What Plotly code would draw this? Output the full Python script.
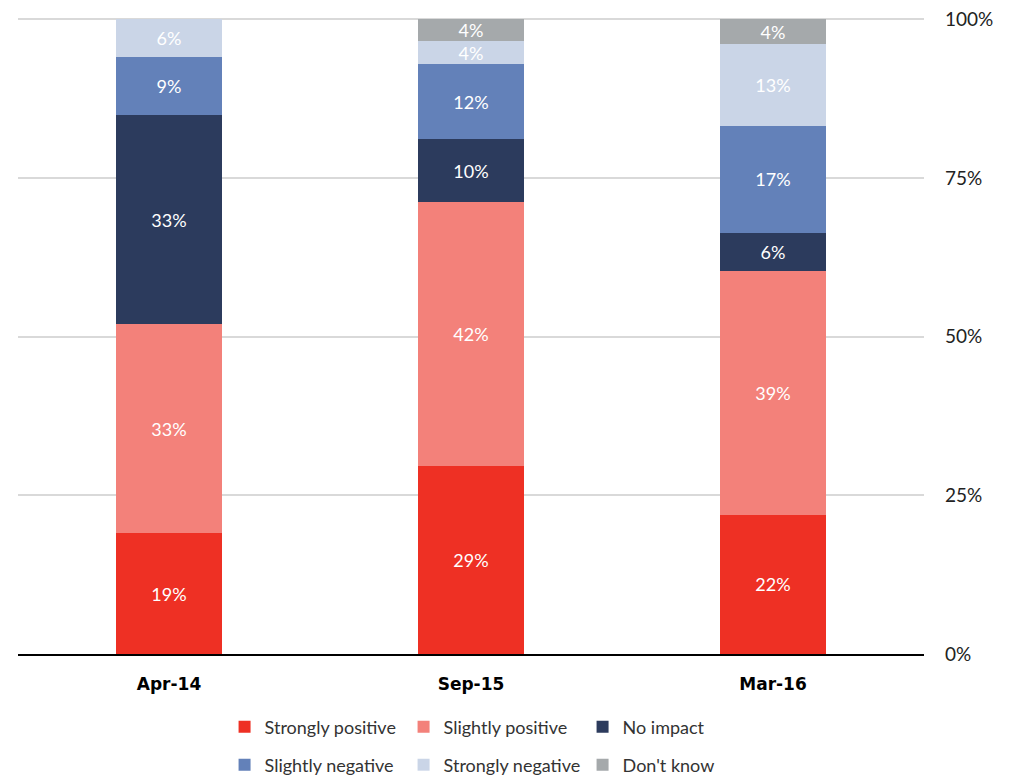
import plotly.graph_objects as go

categories = ["Apr-14", "Sep-15", "Mar-16"]
series_names = ["Strongly positive", "Slightly positive", "No impact",
                "Slightly negative", "Strongly negative", "Don't know"]
strongly_positive = [19.0, 29.6, 21.9]
slightly_positive = [33.0, 41.6, 38.5]
no_impact = [32.9, 9.9, 6.0]
slightly_negative = [9.1, 11.8, 16.8]
strongly_negative = [6.0, 3.6, 12.9]
dont_know = [0.0, 3.5, 3.9]

labels_strongly_positive = ["19%", "29%", "22%"]
labels_slightly_positive = ["33%", "42%", "39%"]
labels_no_impact = ["33%", "10%", "6%"]
labels_slightly_negative = ["9%", "12%", "17%"]
labels_strongly_negative = ["6%", "4%", "13%"]
labels_dont_know = ["", "4%", "4%"]

tick_values = [0, 25, 50, 75, 100]
tick_labels = ["0%", "25%", "50%", "75%", "100%"]

colors = ["#EE3024", "#F3817A", "#2C3B5D", "#6381B9", "#CAD5E7", "#A5A9AB"]

values = [strongly_positive, slightly_positive, no_impact,
          slightly_negative, strongly_negative, dont_know]
labels = [labels_strongly_positive, labels_slightly_positive, labels_no_impact,
          labels_slightly_negative, labels_strongly_negative, labels_dont_know]

FONT = "Lato"

fig = go.Figure()
for i, (name, vals, txt, col) in enumerate(zip(series_names, values, labels, colors)):
    fig.add_trace(go.Bar(
        name=name, x=categories, y=vals, text=txt,
        textposition="inside", insidetextanchor="middle", textangle=0,
        constraintext="none",
        textfont=dict(color="white", size=18, family=FONT),
        marker=dict(color=col, line=dict(width=0)),
        hoverinfo="skip",
        legend="legend" if i < 3 else "legend2",
    ))

legend_common = dict(
    orientation="h", xanchor="left", yanchor="middle",
    font=dict(size=18, family=FONT, color="#333333"),
    entrywidth=134, itemwidth=30, traceorder="normal",
    bgcolor="rgba(0,0,0,0)",
)

fig.update_layout(
    barmode="stack",
    barnorm="percent",
    bargap=0.646,
    width=1010, height=771,
    margin=dict(l=10, r=94, t=10, b=125, autoexpand=False),
    paper_bgcolor="white", plot_bgcolor="white",
    font=dict(family=FONT, color="#222222"),
    uniformtext=dict(minsize=16, mode="show"),
    xaxis=dict(
        showline=True, linecolor="black", linewidth=2,
        ticks="", tickfont=dict(family="DejaVu Sans", size=17, color="black", weight="bold"),
        ticklabelstandoff=14,
    ),
    yaxis=dict(
        side="right", range=[0, 100.2], tickvals=tick_values, ticktext=tick_labels,
        showgrid=True, gridcolor="#D9D9D9", gridwidth=2,
        zeroline=False, tickfont=dict(size=19, color="#222222", family=FONT),
        ticklabelstandoff=20, ticklabeloverflow="allow",
    ),
    legend=dict(x=0.228, y=-0.115, **legend_common),
    legend2=dict(x=0.228, y=-0.1745, **legend_common),
)

fig.write_html("out.html")
